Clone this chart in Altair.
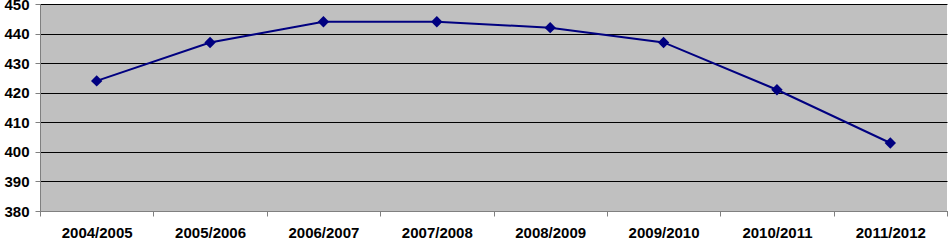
import altair as alt
import pandas as pd

years = ["2004/2005", "2005/2006", "2006/2007", "2007/2008",
         "2008/2009", "2009/2010", "2010/2011", "2011/2012"]
values = [424, 437, 444, 444, 442, 437, 421, 403]
y_ticks = [380, 390, 400, 410, 420, 430, 440, 450]

df = pd.DataFrame({"year": years, "value": values})

FONT = "Liberation Sans"

x = alt.X("year:N", sort=years, bandPosition=0.5,
          scale=alt.Scale(type="band", paddingInner=0, paddingOuter=0),
          axis=alt.Axis(title=None, labelAngle=0, tickBand="extent", grid=False,
                        domainColor="#808080", tickColor="#808080", tickSize=5,
                        labelFont=FONT, labelFontWeight="bold", labelFontSize=15,
                        labelColor="black", labelPadding=9))
y = alt.Y("value:Q",
          scale=alt.Scale(domain=[380, 450], nice=False, zero=False),
          axis=alt.Axis(title=None, values=y_ticks, grid=True, gridColor="black",
                        gridWidth=1, domainColor="#808080", tickColor="#808080",
                        tickSize=5, labelFont=FONT, labelFontWeight="bold",
                        labelFontSize=15, labelColor="black", labelPadding=6))

base = alt.Chart(df).encode(x=x, y=y)
line = base.mark_line(color="#000080", strokeWidth=2)
pts = base.mark_point(shape="diamond", filled=True, color="#000080", size=130, opacity=1)

chart = (line + pts).properties(
    width=907, height=207,
    autosize=alt.AutoSizeParams(type="none"),
    padding={"left": 40, "top": 4, "right": 2, "bottom": 30},
    background="white",
).configure_view(fill="#C0C0C0", stroke=None)

chart.save("out.html", embed_options={"renderer": "svg", "actions": False})
